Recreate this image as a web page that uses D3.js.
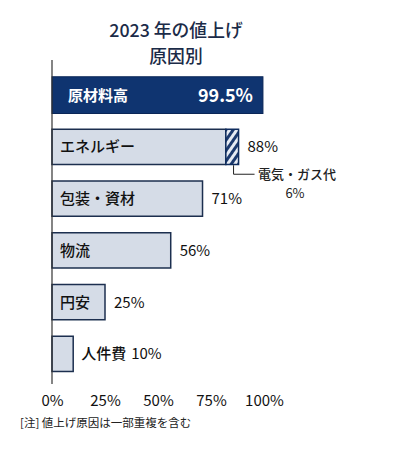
<!DOCTYPE html>
<html><head><meta charset="utf-8">
<script src="https://cdn.jsdelivr.net/npm/d3@7"></script>
<style>
body{margin:0;background:#fff;}
text{font-family:"Noto Sans CJK JP","Noto Sans",sans-serif;}
</style>
</head><body>
<script>
const categories = ["原材料高","エネルギー","包装・資材","物流","円安","人件費"];
const values = [99.5, 88, 71, 56, 25, 10];
const valueLabels = ["99.5%","88%","71%","56%","25%","10%"];
const energySub = 6; // 電気・ガス代 portion
const tickValues = [0,25,50,75,100];
const tickLabels = ["0%","25%","50%","75%","100%"];
const titleLines = ["2023 年の値上げ","原因別"];

const W=400,H=454;
const svg=d3.select("body").append("svg").attr("width",W).attr("height",H);
const defs=svg.append("defs");
const pat=defs.append("pattern").attr("id","hatch").attr("patternUnits","userSpaceOnUse")
  .attr("width",6).attr("height",6).attr("patternTransform","rotate(35)");
pat.append("rect").attr("width",6).attr("height",6).attr("fill","#e6ebf3");
pat.append("rect").attr("width",3).attr("height",6).attr("fill","#1d3a6e");

const x=d3.scaleLinear().domain([0,100]).range([52,264]);
const y=d3.scaleBand().domain(categories).range([69,380]).paddingInner(0.29).paddingOuter(0.15);

const navy="#0f3470", border="#1c2f4f", light="#d5dce7";

const title=svg.append("text").attr("x",176).attr("y",36.5).attr("text-anchor","middle")
  .attr("font-size",17.8).attr("font-weight",500).attr("fill","#1b2b48");
titleLines.forEach((t,i)=>title.append("tspan").attr("x",176).attr("dy",i?26:0).text(t));

const rows=categories.map((c,i)=>({c,v:values[i],l:valueLabels[i],i}));
const g=svg.append("g");
rows.forEach(d=>{
  const y0=y(d.c), bh=y.bandwidth();
  if(d.i===0){
    g.append("rect").attr("x",x(0)).attr("y",y0).attr("width",x(d.v)-x(0)).attr("height",bh)
      .attr("fill",navy).attr("stroke","#0a2657").attr("stroke-width",1);
    g.append("text").attr("x",68).attr("y",y0+bh/2).attr("dy","0.36em").attr("font-size",15)
      .attr("font-weight","bold").attr("fill","#fff").text(d.c);
    g.append("text").attr("x",x(d.v)-10).attr("y",y0+bh/2).attr("dy","0.36em").attr("font-size",18)
      .attr("font-weight","bold").attr("text-anchor","end").attr("fill","#fff").text(d.l);
    return;
  }
  const solidEnd = d.i===1 ? d.v-energySub : d.v;
  g.append("rect").attr("x",x(0)).attr("y",y0+0.75).attr("width",x(solidEnd)-x(0)).attr("height",bh-1.5)
    .attr("fill",light).attr("stroke",border).attr("stroke-width",1.5);
  if(d.i===1){
    g.append("rect").attr("x",x(solidEnd)).attr("y",y0+0.75).attr("width",x(d.v)-x(solidEnd)).attr("height",bh-1.5)
      .attr("fill","url(#hatch)").attr("stroke","#0f2c5e").attr("stroke-width",1.5);
    const lx=x(d.v)-5, yb=y0+bh;
    g.append("path").attr("d",`M${lx},${yb}V${yb+9}H${lx+21}`).attr("fill","none")
      .attr("stroke","#222").attr("stroke-width",1);
    g.append("text").attr("x",258).attr("y",yb+9).attr("dy","0.36em").attr("font-size",13)
      .attr("font-weight",500).attr("fill","#222").text("電気・ガス代");
    g.append("text").attr("x",295).attr("y",yb+28).attr("dy","0.36em").attr("font-size",13)
      .attr("text-anchor","middle").attr("fill","#222").text(energySub+"%");
  }
  const inside = d.i<=4;
  if(inside){
    g.append("text").attr("x",60).attr("y",y0+bh/2).attr("dy","0.36em").attr("font-size",15)
      .attr("font-weight",500).attr("fill","#111").text(d.c);
    g.append("text").attr("x",x(d.v)+9).attr("y",y0+bh/2).attr("dy","0.36em").attr("font-size",15)
      .attr("fill","#111").text(d.l);
  } else {
    const t=g.append("text").attr("x",x(d.v)+8).attr("y",y0+bh/2).attr("dy","0.36em").attr("font-size",15)
      .attr("fill","#111");
    t.append("tspan").attr("font-weight",500).text(d.c);
    t.append("tspan").attr("dx",5).text(d.l);
  }
});

// axis
svg.append("line").attr("x1",x(0)).attr("x2",x(0)).attr("y1",60).attr("y2",384)
  .attr("stroke","#333").attr("stroke-width",1.2);
const ax=svg.append("g").attr("transform","translate(0,395)")
  .call(d3.axisBottom(x).tickValues(tickValues).tickFormat((d,i)=>tickLabels[i]).tickSize(0).tickPadding(0));
ax.select(".domain").remove();
ax.selectAll("text").attr("font-size",15).attr("fill","#111").attr("dy","0.71em")
  .style("font-family","'Noto Sans CJK JP','Noto Sans',sans-serif");

svg.append("text").attr("x",20).attr("y",423).attr("dy","0.36em").attr("font-size",11.5)
  .attr("fill","#222").text("[注] 値上げ原因は一部重複を含む");
</script>
</body></html>
